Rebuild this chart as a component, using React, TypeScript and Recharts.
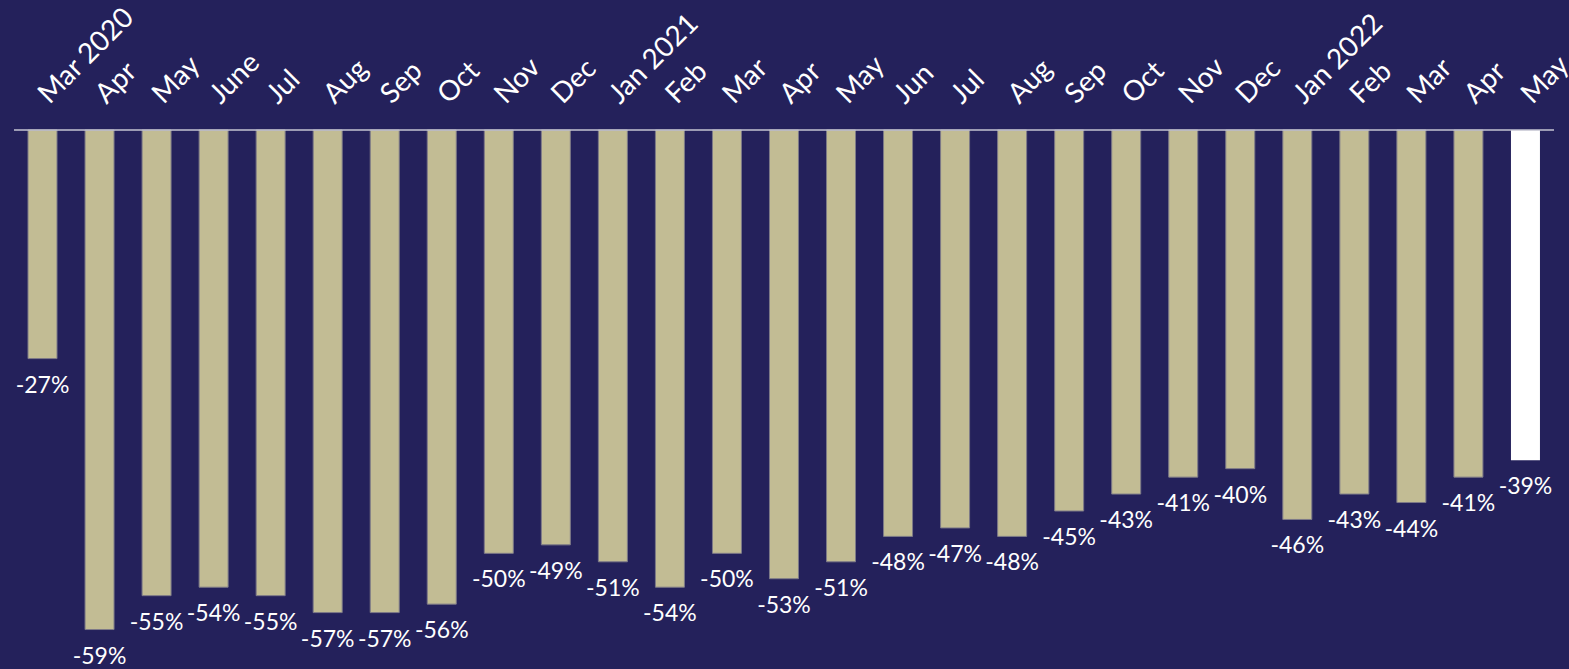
import { Bar, BarChart, Cell, LabelList, XAxis, YAxis } from "recharts";

const months = [
  "Mar 2020", "Apr", "May", "June", "Jul", "Aug", "Sep", "Oct", "Nov", "Dec",
  "Jan 2021", "Feb", "Mar", "Apr", "May", "Jun", "Jul", "Aug", "Sep", "Oct",
  "Nov", "Dec", "Jan 2022", "Feb", "Mar", "Apr", "May",
];

const change = [
  -27, -59, -55, -54, -55, -57, -57, -56, -50, -49,
  -51, -54, -50, -53, -51, -48, -47, -48, -45, -43,
  -41, -40, -46, -43, -44, -41, -39,
];

const BG = "#24215b";
const TAN = "#c2bc94";
const FONT = "Lato, 'Open Sans', sans-serif";

const data = months.map((m, i) => ({ key: `m${i}`, label: m, value: change[i] }));

function MonthTick({ x, payload }: any) {
  const label = months[payload.index] ?? "";
  const ax = x + 7;
  const ay = 105;
  return (
    <text
      x={ax}
      y={ay}
      transform={`rotate(-45 ${ax} ${ay})`}
      textAnchor="start"
      fill="#ffffff"
      fontSize={28}
      fontFamily={FONT}
    >
      {label}
    </text>
  );
}

function ValueLabel({ x, y, width, height, value }: any) {
  const bottom = Math.max(y, y + height);
  return (
    <text
      x={x + width / 2}
      y={bottom + 34}
      textAnchor="middle"
      fill="#ffffff"
      fontSize={23}
      fontFamily={FONT}
    >
      {`${value}%`}
    </text>
  );
}

export default function App() {
  return (
    <div style={{ position: "absolute", left: 0, top: 0, width: 1569, height: 669, background: BG }}>
      <BarChart
        width={1569}
        height={669}
        data={data}
        margin={{ top: 0, right: 15, bottom: 31, left: 14 }}
      >
        <XAxis
          dataKey="key"
          orientation="top"
          height={130}
          interval={0}
          tickLine={false}
          axisLine={{ stroke: "#c4c4d2", strokeWidth: 1.5 }}
          tick={<MonthTick />}
        />
        <YAxis hide domain={[-60, 0]} />
        <Bar dataKey="value" barSize={29} isAnimationActive={false}>
          {data.map((d, i) => (
            <Cell
              key={d.key}
              fill={i === data.length - 1 ? "#ffffff" : TAN}
              stroke={i === data.length - 1 ? "none" : "#7d7a88"}
              strokeWidth={1}
            />
          ))}
          <LabelList dataKey="value" content={<ValueLabel />} />
        </Bar>
      </BarChart>
    </div>
  );
}
